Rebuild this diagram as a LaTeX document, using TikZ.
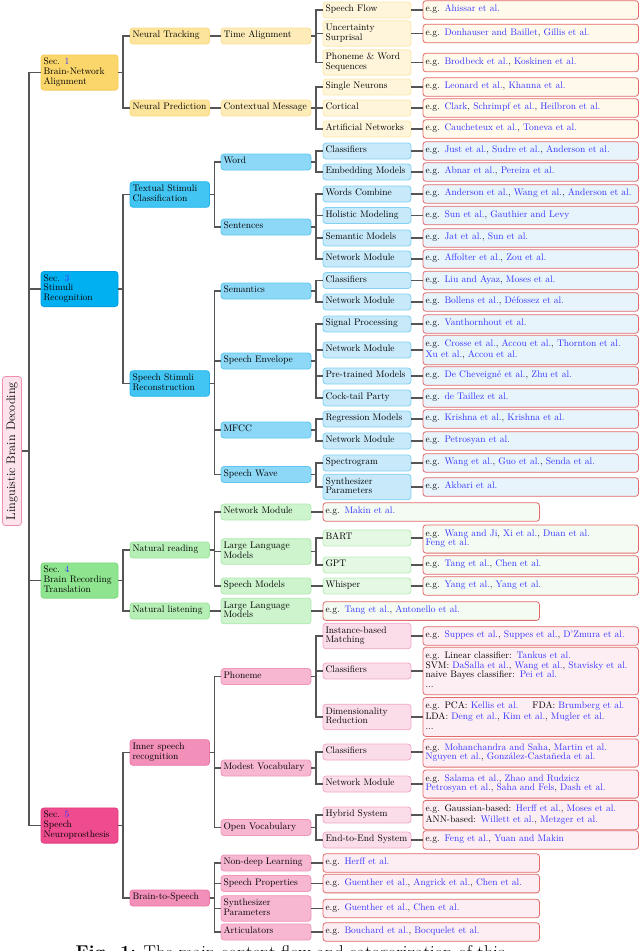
\documentclass[tikz,border=0pt]{standalone}
\usepackage{tikz}

\definecolor{linkgray}{HTML}{555555}
\definecolor{refred}{HTML}{E26A6A}
\definecolor{citeblue}{HTML}{3333FF}
\definecolor{rootfill}{HTML}{FDE4EC}
\definecolor{rootline}{HTML}{F08DB5}
\definecolor{ylwA}{HTML}{FAD66B}\definecolor{ylwAd}{HTML}{F5CB55}
\definecolor{ylwB}{HTML}{FCE49C}\definecolor{ylwBd}{HTML}{F9D97C}
\definecolor{ylwC}{HTML}{FDECB9}\definecolor{ylwCd}{HTML}{FBE29A}
\definecolor{ylwD}{HTML}{FEF5DA}\definecolor{ylwDd}{HTML}{FCE8A9}
\definecolor{ylwR}{HTML}{FFFAEC}
\definecolor{bluA}{HTML}{00B0F0}\definecolor{bluAd}{HTML}{009FE0}
\definecolor{bluB}{HTML}{42C5F2}\definecolor{bluBd}{HTML}{24B6EA}
\definecolor{bluC}{HTML}{8DD8F6}\definecolor{bluCd}{HTML}{5EC7F0}
\definecolor{bluD}{HTML}{C7E9FA}\definecolor{bluDd}{HTML}{80D1F3}
\definecolor{bluR}{HTML}{E7F4FB}
\definecolor{grnA}{HTML}{8FE48F}\definecolor{grnAd}{HTML}{7CD97C}
\definecolor{grnB}{HTML}{B6EFB6}\definecolor{grnBd}{HTML}{9CE49C}
\definecolor{grnC}{HTML}{CDF4CD}\definecolor{grnCd}{HTML}{AEE9AE}
\definecolor{grnD}{HTML}{E4F8E4}\definecolor{grnDd}{HTML}{B9EDB9}
\definecolor{grnR}{HTML}{F3FBF3}
\definecolor{pnkA}{HTML}{EE4C8E}\definecolor{pnkAd}{HTML}{E23A7E}
\definecolor{pnkB}{HTML}{F290BA}\definecolor{pnkBd}{HTML}{EB76A7}
\definecolor{pnkC}{HTML}{F7B7D1}\definecolor{pnkCd}{HTML}{F096BB}
\definecolor{pnkD}{HTML}{FBDDEA}\definecolor{pnkDd}{HTML}{F3A8C7}
\definecolor{pnkR}{HTML}{FDEEF4}
\newcommand{\cte}[1]{\textcolor{citeblue}{#1}}

\begin{document}
\begin{tikzpicture}[x=1pt,y=-1pt,
  box/.style={rounded corners=3pt,align=left,anchor=west,inner xsep=2.5pt,inner ysep=3.2pt,
    outer sep=0pt,line width=0.8pt,font=\fontsize{9.5}{9.6}\selectfont,
    execute at begin node=\strut,execute at end node=\strut},
  sec/.style={box,text width=72pt},
  grp/.style={box,text width=74.5pt},
  sub/.style={box,text width=85pt},
  leaf/.style={box,text width=83pt},
  refs/.style={box,inner ysep=4.5pt,text width=210.5pt,draw=refred},
  srefs/.style={refs,text width=211.5pt},
  link/.style={draw=linkgray,line width=1.3pt}]
  \useasboundingbox (0,0) rectangle (640,951);

  \node[rounded corners=3pt,rotate=90,fill=rootfill,draw=rootline,line width=0.8pt,
    minimum width=149pt,minimum height=19pt,inner sep=2pt,font=\fontsize{12.3}{14}\selectfont]
    (lbd) at (12,451) {Linguistic Brain Decoding};

  \begin{scope}[sec/.append style={fill=ylwA,draw=ylwAd},grp/.append style={fill=ylwB,draw=ylwBd},
    sub/.append style={fill=ylwC,draw=ylwCd},leaf/.append style={fill=ylwD,draw=ylwDd},
    refs/.append style={fill=ylwR}]
    \node[sec] (s1) at (41,72.5) {Sec. \cte{1}\\Brain-Network\\Alignment};
    \node[grp] (ntrack) at (130,36) {Neural Tracking};
    \node[sub] (talign) at (221,36) {Time Alignment};
    \node[leaf] (sflow) at (323,10) {Speech Flow};
    \node[refs] (r-sflow) at (423,10) {e.g. \cte{Ahissar et al.}};
    \node[leaf] (usurp) at (323,33.5) {Uncertainty\\Surprisal};
    \node[refs] (r-usurp) at (423,33.5) {e.g. \cte{Donhauser and Baillet}, \cte{Gillis et al.}};
    \node[leaf] (pwseq) at (323,62.5) {Phoneme \& Word\\Sequences};
    \node[refs] (r-pwseq) at (423,62.5) {e.g. \cte{Brodbeck et al.}, \cte{Koskinen et al.}};
    \node[grp] (npred) at (130,108) {Neural Prediction};
    \node[sub] (cmsg) at (221,108) {Contextual Message};
    \node[leaf] (sneur) at (323,87) {Single Neurons};
    \node[refs] (r-sneur) at (423,87) {e.g. \cte{Leonard et al.}, \cte{Khanna et al.}};
    \node[leaf] (cort) at (323,108) {Cortical};
    \node[refs] (r-cort) at (423,108) {e.g. \cte{Clark}, \cte{Schrimpf et al.}, \cte{Heilbron et al.}};
    \node[leaf] (artn) at (323,129) {Artificial Networks};
    \node[refs] (r-artn) at (423,129) {e.g. \cte{Caucheteux et al.}, \cte{Toneva et al.}};
  \end{scope}

  \begin{scope}[sec/.append style={fill=bluA,draw=bluAd},grp/.append style={fill=bluB,draw=bluBd},
    sub/.append style={fill=bluC,draw=bluCd},leaf/.append style={fill=bluD,draw=bluDd},
    refs/.append style={fill=bluR}]
    \node[sec] (s3) at (41,289) {Sec. \cte{3}\\Stimuli\\Recognition};
    \node[grp] (tscls) at (130,194.5) {Textual Stimuli\\Classification};
    \node[sub] (word) at (221,162) {Word};
    \node[leaf] (wcls) at (323,151) {Classifiers};
    \node[refs] (r-wcls) at (423,151) {e.g. \cte{Just et al.}, \cte{Sudre et al.}, \cte{Anderson et al.}};
    \node[leaf] (wemb) at (323,172) {Embedding Models};
    \node[refs] (r-wemb) at (423,172) {e.g. \cte{Abnar et al.}, \cte{Pereira et al.}};
    \node[sub] (sent) at (221,227) {Sentences};
    \node[leaf] (wcomb) at (323,194) {Words Combine};
    \node[refs] (r-wcomb) at (423,194) {e.g. \cte{Anderson et al.}, \cte{Wang et al.}, \cte{Anderson et al.}};
    \node[leaf] (holm) at (323,215.5) {Holistic Modeling};
    \node[refs] (r-holm) at (423,215.5) {e.g. \cte{Sun et al.}, \cte{Gauthier and Levy}};
    \node[leaf] (semm) at (323,238) {Semantic Models};
    \node[refs] (r-semm) at (423,238) {e.g. \cte{Jat et al.}, \cte{Sun et al.}};
    \node[leaf] (snet) at (323,259) {Network Module};
    \node[refs] (r-snet) at (423,259) {e.g. \cte{Affolter et al.}, \cte{Zou et al.}};
    \node[grp] (ssrec) at (130,383.5) {Speech Stimuli\\Reconstruction};
    \node[sub] (sema) at (221,291) {Semantics};
    \node[leaf] (scls) at (323,280.5) {Classifiers};
    \node[refs] (r-scls) at (423,280.5) {e.g. \cte{Liu and Ayaz}, \cte{Moses et al.}};
    \node[leaf] (smnet) at (323,302) {Network Module};
    \node[refs] (r-smnet) at (423,302) {e.g. \cte{Bollens et al.}, \cte{Défossez et al.}};
    \node[sub] (senv) at (221,361) {Speech Envelope};
    \node[leaf] (sigp) at (323,324) {Signal Processing};
    \node[refs] (r-sigp) at (423,324) {e.g. \cte{Vanthornhout et al.}};
    \node[leaf] (enet) at (323,350) {Network Module};
    \node[refs] (r-enet) at (423,350) {e.g. \cte{Crosse et al.}, \cte{Accou et al.}, \cte{Thornton et al.}\\\cte{Xu et al.}, \cte{Accou et al.}};
    \node[leaf] (ptm) at (323,376) {Pre-trained Models};
    \node[refs] (r-ptm) at (423,376) {e.g. \cte{De Cheveigné et al.}, \cte{Zhu et al.}};
    \node[leaf] (ctp) at (323,398) {Cock-tail Party};
    \node[refs] (r-ctp) at (423,398) {e.g. \cte{de Taillez et al.}};
    \node[sub] (mfcc) at (221,430) {MFCC};
    \node[leaf] (regm) at (323,419) {Regression Models};
    \node[refs] (r-regm) at (423,419) {e.g. \cte{Krishna et al.}, \cte{Krishna et al.}};
    \node[leaf] (mnet) at (323,441) {Network Module};
    \node[refs] (r-mnet) at (423,441) {e.g. \cte{Petrosyan et al.}};
    \node[sub] (swave) at (221,474.5) {Speech Wave};
    \node[leaf] (spec) at (323,463) {Spectrogram};
    \node[refs] (r-spec) at (423,463) {e.g. \cte{Wang et al.}, \cte{Guo et al.}, \cte{Senda et al.}};
    \node[leaf] (synp) at (323,487) {Synthesizer\\Parameters};
    \node[refs] (r-synp) at (423,487) {e.g. \cte{Akbari et al.}};
  \end{scope}

  \begin{scope}[sec/.append style={fill=grnA,draw=grnAd},grp/.append style={fill=grnB,draw=grnBd},
    sub/.append style={fill=grnC,draw=grnCd},leaf/.append style={fill=grnD,draw=grnDd},
    refs/.append style={fill=grnR}]
    \node[sec] (s4) at (41,580.5) {Sec. \cte{4}\\Brain Recording\\Translation};
    \node[grp] (nread) at (130,550) {Natural reading};
    \node[sub] (rnet) at (221,512) {Network Module};
    \node[srefs] (r-rnet) at (323,512) {e.g. \cte{Makin et al.}};
    \node[sub] (rllm) at (221,551.5) {Large Language\\Models};
    \node[leaf] (bart) at (323,538) {BART};
    \node[refs] (r-bart) at (423,539) {e.g. \cte{Wang and Ji}, \cte{Xi et al.}, \cte{Duan et al.}\\\cte{Feng et al.}};
    \node[leaf] (gpt) at (323,565) {GPT};
    \node[refs] (r-gpt) at (423,565) {e.g. \cte{Tang et al.}, \cte{Chen et al.}};
    \node[sub] (smod) at (221,586) {Speech Models};
    \node[leaf] (whis) at (323,586) {Whisper};
    \node[refs] (r-whis) at (423,586) {e.g. \cte{Yang et al.}, \cte{Yang et al.}};
    \node[grp] (nlist) at (130,611) {Natural listening};
    \node[sub] (lllm) at (221,611) {Large Language\\Models};
    \node[srefs] (r-lllm) at (323,611) {e.g. \cte{Tang et al.}, \cte{Antonello et al.}};
  \end{scope}

  \begin{scope}[sec/.append style={fill=pnkA,draw=pnkAd},grp/.append style={fill=pnkB,draw=pnkBd},
    sub/.append style={fill=pnkC,draw=pnkCd},leaf/.append style={fill=pnkD,draw=pnkDd},
    refs/.append style={fill=pnkR}]
    \node[sec] (s5) at (41,825.5) {Sec. \cte{5}\\Speech\\Neuroprosthesis};
    \node[grp] (isr) at (130,752.5) {Inner speech\\recognition};
    \node[sub] (phon) at (221,676.5) {Phoneme};
    \node[leaf] (ibm) at (323,636) {Instance-based\\Matching};
    \node[refs] (r-ibm) at (423,636) {e.g. \cte{Suppes et al.}, \cte{Suppes et al.}, \cte{D'Zmura et al.}};
    \node[leaf] (pcls) at (323,671) {Classifiers};
    \node[refs] (r-pcls) at (423,671) {e.g. Linear classifier: \cte{Tankus et al.}\\SVM: \cte{DaSalla et al.}, \cte{Wang et al.}, \cte{Stavisky et al.}\\naive Bayes classifier: \cte{Pei et al.}\\...};
    \node[leaf] (dimr) at (323,717) {Dimensionality\\Reduction};
    \node[refs] (r-dimr) at (423,717) {e.g. PCA: \cte{Kellis et al.}\hspace{14pt}FDA: \cte{Brumberg et al.}\\LDA: \cte{Deng et al.}, \cte{Kim et al.}, \cte{Mugler et al.}\\...};
    \node[sub] (mvoc) at (221,768) {Modest Vocabulary};
    \node[leaf] (mcls) at (323,752) {Classifiers};
    \node[refs] (r-mcls) at (423,753) {e.g. \cte{Mohanchandra and Saha}, \cte{Martin et al.}\\\cte{Nguyen et al.}, \cte{González-Castañeda et al.}};
    \node[leaf] (mnetm) at (323,784) {Network Module};
    \node[refs] (r-mnetm) at (423,784) {e.g. \cte{Salama et al.}, \cte{Zhao and Rudzicz}\\\cte{Petrosyan et al.}, \cte{Saha and Fels}, \cte{Dash et al.}};
    \node[sub] (ovoc) at (221,827.5) {Open Vocabulary};
    \node[leaf] (hyb) at (323,815) {Hybrid System};
    \node[refs] (r-hyb) at (423,815) {e.g. Gaussian-based: \cte{Herff et al.}, \cte{Moses et al.}\\ANN-based: \cte{Willett et al.}, \cte{Metzger et al.}};
    \node[leaf] (e2e) at (323,840) {End-to-End System};
    \node[refs] (r-e2e) at (423,840) {e.g. \cte{Feng et al.}, \cte{Yuan and Makin}};
    \node[grp] (b2s) at (130,898) {Brain-to-Speech};
    \node[sub] (ndl) at (221,863) {Non-deep Learning};
    \node[srefs] (r-ndl) at (323,863) {e.g. \cte{Herff et al.}};
    \node[sub] (sprop) at (221,883.5) {Speech Properties};
    \node[srefs] (r-sprop) at (323,883.5) {e.g. \cte{Guenther et al.}, \cte{Angrick et al.}, \cte{Chen et al.}};
    \node[sub] (synpb) at (221,908.5) {Synthesizer\\Parameters};
    \node[srefs] (r-synpb) at (323,908.5) {e.g. \cte{Guenther et al.}, \cte{Chen et al.}};
    \node[sub] (artic) at (221,932) {Articulators};
    \node[srefs] (r-artic) at (323,932) {e.g. \cte{Bouchard et al.}, \cte{Bocquelet et al.}};
  \end{scope}

  \node[anchor=base west,inner sep=0pt,font=\fontsize{18.5}{22}\selectfont] (cap) at (75.5,958.8)
    {\textbf{Fig. 1:} The main content flow and categorization of this};

  \draw[link] (lbd.south) -- ++(7,0) |- (s1.west);
  \draw[link] (lbd.south) -- ++(7,0) |- (s3.west);
  \draw[link] (lbd.south) -- ++(7,0) |- (s4.west);
  \draw[link] (lbd.south) -- ++(7,0) |- (s5.west);

  \draw[link] (s1.east) -- ++(5,0) |- (ntrack.west);
  \draw[link] (s1.east) -- ++(5,0) |- (npred.west);
  \draw[link] (ntrack) -- (talign);
  \draw[link] (npred) -- (cmsg);
  \draw[link] (talign.east) -- ++(5,0) |- (sflow.west);
  \draw[link] (talign.east) -- ++(5,0) |- (usurp.west);
  \draw[link] (talign.east) -- ++(5,0) |- (pwseq.west);
  \draw[link] (cmsg.east) -- ++(5,0) |- (sneur.west);
  \draw[link] (cmsg.east) -- ++(5,0) |- (cort.west);
  \draw[link] (cmsg.east) -- ++(5,0) |- (artn.west);
  \draw[link] (sflow) -- (r-sflow);
  \draw[link] (usurp) -- (r-usurp);
  \draw[link] (pwseq) -- (r-pwseq);
  \draw[link] (sneur) -- (r-sneur);
  \draw[link] (cort) -- (r-cort);
  \draw[link] (artn) -- (r-artn);

  \draw[link] (s3.east) -- ++(5,0) |- (tscls.west);
  \draw[link] (s3.east) -- ++(5,0) |- (ssrec.west);
  \draw[link] (tscls.east) -- ++(5,0) |- (word.west);
  \draw[link] (tscls.east) -- ++(5,0) |- (sent.west);
  \draw[link] (word.east) -- ++(5,0) |- (wcls.west);
  \draw[link] (word.east) -- ++(5,0) |- (wemb.west);
  \draw[link] (sent.east) -- ++(5,0) |- (wcomb.west);
  \draw[link] (sent.east) -- ++(5,0) |- (holm.west);
  \draw[link] (sent.east) -- ++(5,0) |- (semm.west);
  \draw[link] (sent.east) -- ++(5,0) |- (snet.west);
  \draw[link] (ssrec.east) -- ++(5,0) |- (sema.west);
  \draw[link] (ssrec.east) -- ++(5,0) |- (senv.west);
  \draw[link] (ssrec.east) -- ++(5,0) |- (mfcc.west);
  \draw[link] (ssrec.east) -- ++(5,0) |- (swave.west);
  \draw[link] (sema.east) -- ++(5,0) |- (scls.west);
  \draw[link] (sema.east) -- ++(5,0) |- (smnet.west);
  \draw[link] (senv.east) -- ++(5,0) |- (sigp.west);
  \draw[link] (senv.east) -- ++(5,0) |- (enet.west);
  \draw[link] (senv.east) -- ++(5,0) |- (ptm.west);
  \draw[link] (senv.east) -- ++(5,0) |- (ctp.west);
  \draw[link] (mfcc.east) -- ++(5,0) |- (regm.west);
  \draw[link] (mfcc.east) -- ++(5,0) |- (mnet.west);
  \draw[link] (swave.east) -- ++(5,0) |- (spec.west);
  \draw[link] (swave.east) -- ++(5,0) |- (synp.west);
  \draw[link] (wcls) -- (r-wcls);
  \draw[link] (wemb) -- (r-wemb);
  \draw[link] (wcomb) -- (r-wcomb);
  \draw[link] (holm) -- (r-holm);
  \draw[link] (semm) -- (r-semm);
  \draw[link] (snet) -- (r-snet);
  \draw[link] (scls) -- (r-scls);
  \draw[link] (smnet) -- (r-smnet);
  \draw[link] (sigp) -- (r-sigp);
  \draw[link] (enet) -- (r-enet);
  \draw[link] (ptm) -- (r-ptm);
  \draw[link] (ctp) -- (r-ctp);
  \draw[link] (regm) -- (r-regm);
  \draw[link] (mnet) -- (r-mnet);
  \draw[link] (spec) -- (r-spec);
  \draw[link] (synp) -- (r-synp);

  \draw[link] (s4.east) -- ++(5,0) |- (nread.west);
  \draw[link] (s4.east) -- ++(5,0) |- (nlist.west);
  \draw[link] (nread.east) -- ++(5,0) |- (rnet.west);
  \draw[link] (nread.east) -- ++(5,0) |- (rllm.west);
  \draw[link] (nread.east) -- ++(5,0) |- (smod.west);
  \draw[link] (rllm.east) -- ++(5,0) |- (bart.west);
  \draw[link] (rllm.east) -- ++(5,0) |- (gpt.west);
  \draw[link] (nlist) -- (lllm);
  \draw[link] (smod) -- (whis);
  \draw[link] (rnet) -- (r-rnet);
  \draw[link] (bart.east) -- (bart.east -| r-bart.west);
  \draw[link] (gpt) -- (r-gpt);
  \draw[link] (whis) -- (r-whis);
  \draw[link] (lllm) -- (r-lllm);

  \draw[link] (s5.east) -- ++(5,0) |- (isr.west);
  \draw[link] (s5.east) -- ++(5,0) |- (b2s.west);
  \draw[link] (isr.east) -- ++(5,0) |- (phon.west);
  \draw[link] (isr.east) -- ++(5,0) |- (mvoc.west);
  \draw[link] (isr.east) -- ++(5,0) |- (ovoc.west);
  \draw[link] (phon.east) -- ++(5,0) |- (ibm.west);
  \draw[link] (phon.east) -- ++(5,0) |- (pcls.west);
  \draw[link] (phon.east) -- ++(5,0) |- (dimr.west);
  \draw[link] (mvoc.east) -- ++(5,0) |- (mcls.west);
  \draw[link] (mvoc.east) -- ++(5,0) |- (mnetm.west);
  \draw[link] (ovoc.east) -- ++(5,0) |- (hyb.west);
  \draw[link] (ovoc.east) -- ++(5,0) |- (e2e.west);
  \draw[link] (ibm) -- (r-ibm);
  \draw[link] (pcls) -- (r-pcls);
  \draw[link] (dimr) -- (r-dimr);
  \draw[link] (mcls.east) -- (mcls.east -| r-mcls.west);
  \draw[link] (mnetm) -- (r-mnetm);
  \draw[link] (hyb) -- (r-hyb);
  \draw[link] (e2e) -- (r-e2e);
  \draw[link] (b2s.east) -- ++(5,0) |- (ndl.west);
  \draw[link] (b2s.east) -- ++(5,0) |- (sprop.west);
  \draw[link] (b2s.east) -- ++(5,0) |- (synpb.west);
  \draw[link] (b2s.east) -- ++(5,0) |- (artic.west);
  \draw[link] (ndl) -- (r-ndl);
  \draw[link] (sprop) -- (r-sprop);
  \draw[link] (synpb) -- (r-synpb);
  \draw[link] (artic) -- (r-artic);
\end{tikzpicture}
\end{document}
